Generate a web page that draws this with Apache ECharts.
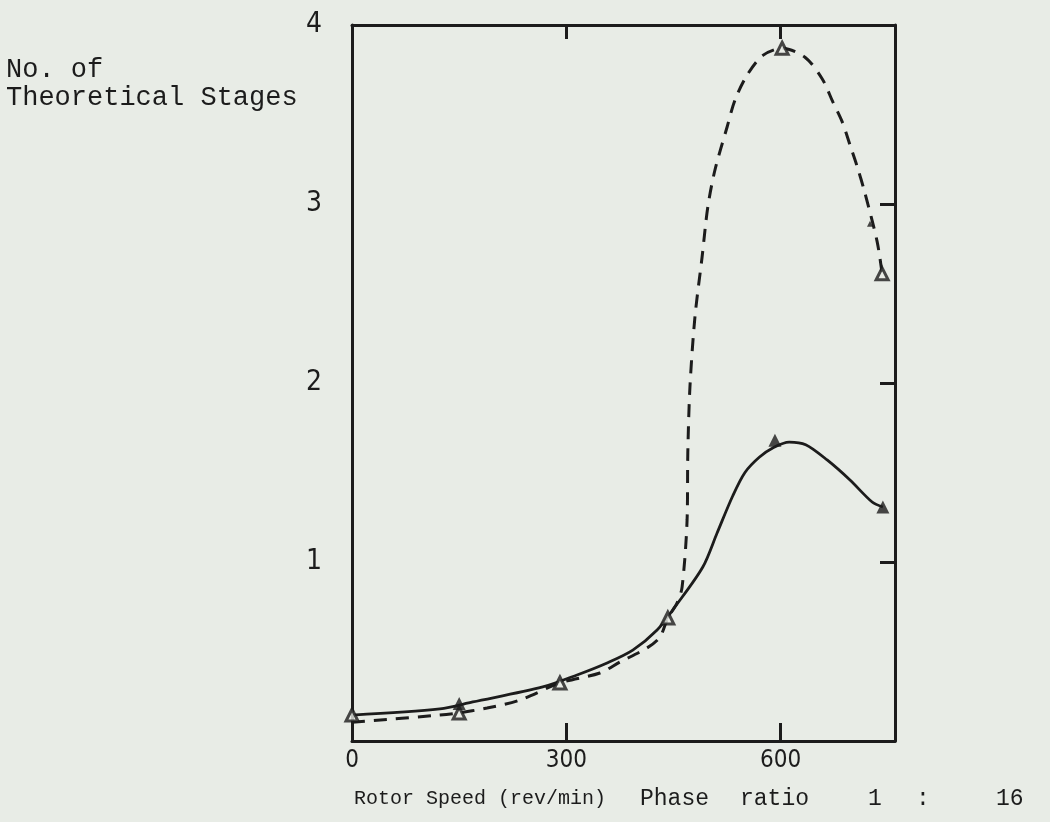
<!DOCTYPE html>
<html>
<head>
<meta charset="utf-8">
<script src="https://cdn.jsdelivr.net/npm/echarts@6/dist/echarts.min.js"></script>
<style>
  html, body { margin: 0; padding: 0; background: #e8ece6; }
  #chart { width: 1050px; height: 822px; }
</style>
</head>
<body>
<div id="chart"></div>
<script>
// traced points along the two hand-drawn curves [rev/min, stages]
const solidCurve = [
  [0, 0.145], [123, 0.179], [169, 0.218], [267, 0.302], [315, 0.369], [357, 0.436],
  [393, 0.508], [427, 0.62], [452, 0.749], [491, 0.972], [511, 1.162], [533, 1.37],
  [550, 1.5], [570, 1.585], [590, 1.64], [612, 1.67], [635, 1.655], [665, 1.57],
  [697, 1.458], [728, 1.335], [743, 1.307]
];
const dashedCurve = [
  [0, 0.105], [123, 0.145], [147, 0.156], [189, 0.184], [235, 0.229], [291, 0.324],
  [347, 0.38], [375, 0.441], [413, 0.52], [431, 0.581], [442, 0.687], [455, 0.771],
  [462, 0.86], [469, 1.235], [470, 1.609], [473, 1.978], [480, 2.369], [490, 2.704],
  [498, 2.983], [508, 3.19], [525, 3.43], [536, 3.58], [553, 3.72], [575, 3.83],
  [602, 3.87], [634, 3.82], [658, 3.70], [673, 3.57], [686, 3.46], [697, 3.33],
  [707, 3.21], [718, 3.06], [735, 2.79], [742, 2.61]
];
// plotted points
const openPoints = [[0, 0.145], [150, 0.156], [291, 0.324], [442, 0.687], [602, 3.87], [742, 2.61]];
const filledPoints = [[150, 0.21], [592, 1.68], [743, 1.307]];
const strayPoints = [[725, 2.89]];

const xTicks = [0, 300, 600];
const yTicks = [1, 2, 3, 4];

const ink = '#1c1c1c';
const paper = '#e8ece6';
const mono = '"Liberation Mono", "DejaVu Sans Mono", monospace';

const chart = echarts.init(document.getElementById('chart'));

const frameLine = { show: true, onZero: false, lineStyle: { color: ink, width: 3 } };

const option = {
  backgroundColor: paper,
  animation: false,
  grid: { left: 352, right: 155, top: 25, bottom: 81 },
  xAxis: [
    {
      type: 'value', min: 0, max: 760, interval: 300, position: 'bottom',
      axisLine: frameLine,
      axisTick: { show: true, inside: true, length: 18, lineStyle: { color: ink, width: 3 } },
      axisLabel: {
        showMaxLabel: false, margin: 8, color: ink, fontSize: 24,
        fontFamily: 'DejaVu Sans Condensed, DejaVu Sans',
        formatter: v => (xTicks.includes(v) ? String(v) : '')
      },
      splitLine: { show: false }
    },
    {
      type: 'value', min: 0, max: 760, interval: 300, position: 'top',
      axisLine: frameLine,
      axisTick: { show: true, inside: true, length: 14, lineStyle: { color: ink, width: 3 } },
      axisLabel: { show: false },
      splitLine: { show: false }
    }
  ],
  yAxis: [
    {
      type: 'value', min: 0, max: 4, interval: 1, position: 'left',
      axisLine: frameLine,
      axisTick: { show: false },
      axisLabel: {
        margin: 30, color: ink, fontSize: 28,
        fontFamily: 'DejaVu Sans Condensed, DejaVu Sans',
        formatter: v => (yTicks.includes(v) ? String(v) : '')
      },
      splitLine: { show: false }
    },
    {
      type: 'value', min: 0, max: 4, interval: 1, position: 'right',
      axisLine: frameLine,
      axisTick: { show: true, inside: true, length: 15, lineStyle: { color: ink, width: 3 } },
      axisLabel: { show: false },
      splitLine: { show: false }
    }
  ],
  series: [
    {
      type: 'line', data: solidCurve, smooth: 0.3, symbol: 'none',
      lineStyle: { color: ink, width: 2.8 }
    },
    {
      type: 'line', data: dashedCurve, smooth: 0.3, symbol: 'none',
      lineStyle: { color: ink, width: 3, type: [13, 9] }
    },
    {
      type: 'scatter', data: openPoints, symbol: 'triangle', symbolSize: 12,
      itemStyle: { color: paper, borderColor: ink, borderWidth: 3 }, z: 5
    },
    {
      type: 'scatter', data: filledPoints, symbol: 'triangle', symbolSize: 13,
      itemStyle: { color: ink }, z: 5
    },
    {
      type: 'scatter', data: strayPoints, symbol: 'triangle', symbolSize: 6,
      itemStyle: { color: ink }, z: 5
    }
  ],
  graphic: [
    {
      type: 'text', left: 6, top: 56,
      style: { text: 'No. of\nTheoretical Stages', lineHeight: 28, font: '27px ' + mono, fill: ink }
    },
    {
      type: 'text', left: 354, top: 789,
      style: { text: 'Rotor Speed (rev/min)', font: '20px ' + mono, fill: ink }
    },
    { type: 'text', left: 640, top: 787, style: { text: 'Phase', font: '23px ' + mono, fill: ink } },
    { type: 'text', left: 740, top: 787, style: { text: 'ratio', font: '23px ' + mono, fill: ink } },
    { type: 'text', left: 868, top: 787, style: { text: '1', font: '23px ' + mono, fill: ink } },
    { type: 'text', left: 916, top: 787, style: { text: ':', font: '23px ' + mono, fill: ink } },
    { type: 'text', left: 996, top: 787, style: { text: '16', font: '23px ' + mono, fill: ink } }
  ]
};

chart.setOption(option);
</script>
</body>
</html>
